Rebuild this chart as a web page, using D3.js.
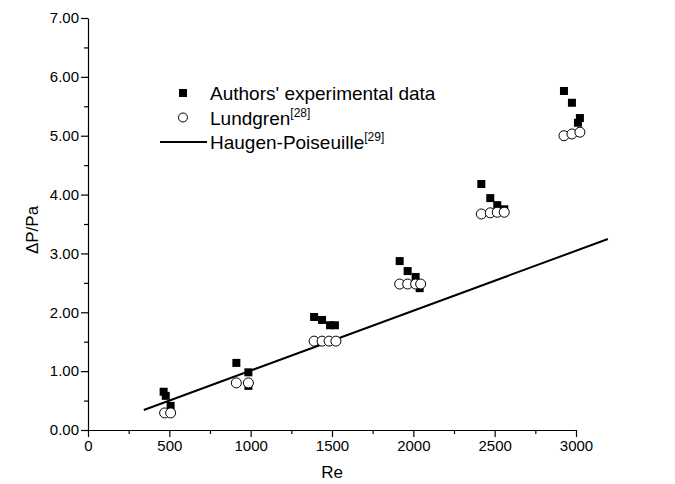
<!DOCTYPE html>
<html>
<head>
<meta charset="utf-8">
<script src="https://cdn.jsdelivr.net/npm/d3@7"></script>
<style>
  body { margin: 0; background: #fff; }
  text { font-family: "Liberation Sans", Arial, sans-serif; }
</style>
</head>
<body>
<div id="chart"></div>
<script>
// Authors' experimental data (Re, dP)
const authorsRe = [465, 478, 508, 912, 986, 986, 1390, 1439, 1488, 1518, 1916, 1965, 2014, 2039, 2418, 2473, 2516, 2559, 2926, 2975, 3024, 3012];
const authorsDP = [0.65, 0.58, 0.41, 1.14, 0.98, 0.75, 1.92, 1.87, 1.78, 1.78, 2.87, 2.70, 2.60, 2.41, 4.18, 3.94, 3.82, 3.75, 5.76, 5.56, 5.30, 5.22];

// Lundgren [28]
const lundRe = [471, 508, 912, 986, 1390, 1439, 1482, 1524, 1916, 1965, 2014, 2045, 2418, 2473, 2516, 2559, 2926, 2975, 3024];
const lundDP = [0.29, 0.29, 0.80, 0.80, 1.51, 1.51, 1.51, 1.51, 2.48, 2.48, 2.48, 2.48, 3.67, 3.69, 3.70, 3.70, 5.00, 5.03, 5.06];

// Haugen-Poiseuille [29] line end points
const hpRe = [343, 3196];
const hpDP = [0.34, 3.245];

const xTicks = [0, 500, 1000, 1500, 2000, 2500, 3000];
const yTicks = [0, 1, 2, 3, 4, 5, 6, 7];

const W = 675, H = 484;
const margin = {top: 18, right: 99, bottom: 54, left: 88},
    width = W - margin.left - margin.right,
    height = H - margin.top - margin.bottom;

const svg = d3.select("#chart")
    .append("svg")
        .attr("width", W)
        .attr("height", H)
    .append("g")
        .attr("transform", "translate(" + margin.left + "," + margin.top + ")");

const x = d3.scaleLinear().domain([0, 3000]).range([0, width]);
const y = d3.scaleLinear().domain([0, 7]).range([height, 0]);

// X axis - minor then major ticks
svg.append("g")
    .attr("transform", "translate(0," + height + ")")
    .call(d3.axisBottom(x).tickValues(d3.range(250, 3000, 500)).tickSize(4).tickFormat(""))
    .call(g => g.select(".domain").remove());
svg.append("g")
    .attr("class", "axis")
    .attr("transform", "translate(0," + height + ")")
    .call(d3.axisBottom(x).tickValues(xTicks).tickSize(7).tickSizeOuter(0).tickPadding(3)
        .tickFormat(d3.format("d")));

// Y axis
svg.append("g")
    .call(d3.axisLeft(y).tickValues(d3.range(0.5, 7, 1)).tickSize(4).tickFormat(""))
    .call(g => g.select(".domain").remove());
svg.append("g")
    .attr("class", "axis")
    .call(d3.axisLeft(y).tickValues(yTicks).tickSize(7).tickSizeOuter(0).tickPadding(2)
        .tickFormat(d3.format(".2f")));

svg.selectAll(".tick line, .domain").attr("stroke", "#000").attr("stroke-width", 1.2);
svg.selectAll(".axis text").style("font-size", "15px").attr("fill", "#000")
    .style("font-family", "'Liberation Sans', Arial, sans-serif");

// Axis titles
svg.append("text")
    .attr("x", width / 2)
    .attr("y", height + 48)
    .style("text-anchor", "middle")
    .style("font-size", "17px")
    .text("Re");

svg.append("text")
    .attr("transform", "rotate(-90)")
    .attr("x", -(height / 2) - 6)
    .attr("y", -50)
    .style("text-anchor", "middle")
    .style("font-size", "17px")
    .text("ΔP/Pa");

// Haugen-Poiseuille line
const line = d3.line()
    .x(d => x(d[0]))
    .y(d => y(d[1]));
svg.append("path")
    .datum(hpRe.map((r, i) => [r, hpDP[i]]))
    .attr("fill", "none")
    .attr("stroke", "#000")
    .attr("stroke-width", 2)
    .attr("d", line);

// Authors' squares
const sq = 8;
svg.selectAll(".sq")
    .data(authorsRe.map((r, i) => [r, authorsDP[i]]))
    .enter().append("rect")
    .attr("x", d => x(d[0]) - sq / 2)
    .attr("y", d => y(d[1]) - sq / 2)
    .attr("width", sq)
    .attr("height", sq)
    .attr("fill", "#000");

// Lundgren circles
svg.selectAll(".ci")
    .data(lundRe.map((r, i) => [r, lundDP[i]]))
    .enter().append("circle")
    .attr("cx", d => x(d[0]))
    .attr("cy", d => y(d[1]))
    .attr("r", 5)
    .attr("fill", "#fff")
    .attr("stroke", "#000")
    .attr("stroke-width", 1);

// Legend
const legend = svg.append("g");
const lx = 95, ly = 75, gap = 24.5;
legend.append("rect")
    .attr("x", lx - 4).attr("y", ly - 4)
    .attr("width", 8).attr("height", 8)
    .attr("fill", "#000");
legend.append("circle")
    .attr("cx", lx).attr("cy", ly + gap)
    .attr("r", 4.5)
    .attr("fill", "#fff").attr("stroke", "#000");
legend.append("line")
    .attr("x1", lx - 23).attr("x2", lx + 24)
    .attr("y1", ly + gap * 2).attr("y2", ly + gap * 2)
    .attr("stroke", "#000").attr("stroke-width", 2);

const labels = [["Authors' experimental data", null], ["Lundgren", "[28]"], ["Haugen-Poiseuille", "[29]"]];
labels.forEach(function(item, i) {
    const t = legend.append("text")
        .attr("x", lx + 27)
        .attr("y", ly + gap * i + 7)
        .style("font-size", "19px");
    t.append("tspan").text(item[0]);
    if (item[1]) {
        t.append("tspan")
            .attr("dy", -8)
            .style("font-size", "12px")
            .text(item[1]);
    }
});
</script>
</body>
</html>
